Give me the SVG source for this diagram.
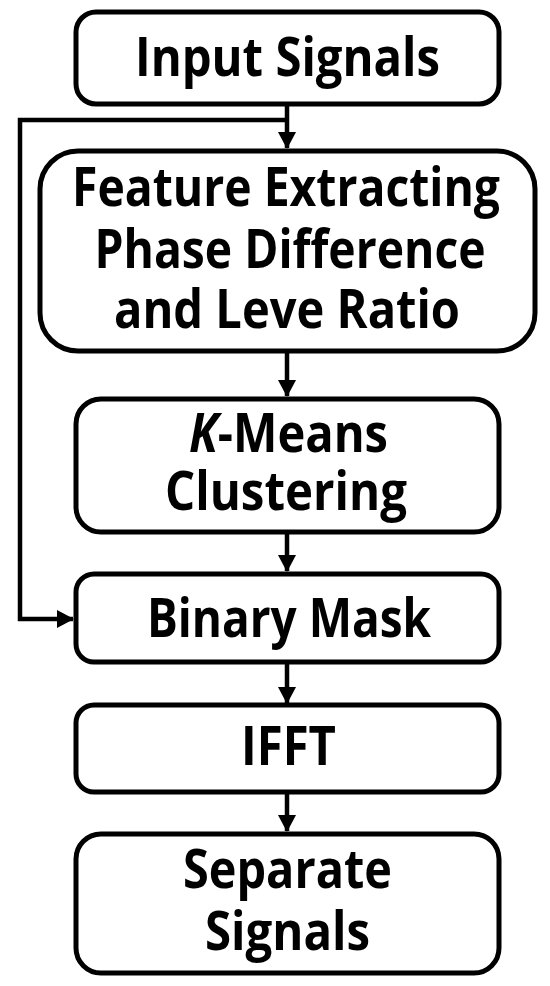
<svg xmlns="http://www.w3.org/2000/svg" width="550" height="986" viewBox="0 0 550 986">
<style>
.box{fill:#fff;stroke:#000;stroke-width:5}
.t{font-family:"Open Sans","Liberation Sans",sans-serif;font-weight:700;font-size:54px;fill:#000;text-anchor:middle}
.c{fill:none;stroke:#000;stroke-width:4.5}
</style>
<defs>
<marker id="ah" markerWidth="17" markerHeight="18" refX="16" refY="9" orient="auto" markerUnits="userSpaceOnUse">
<path d="M0,0 L17,9 L0,18 Z" fill="#000"/>
</marker>
</defs>
<g id="connectors">
<path class="c" d="M287,105 V148" marker-end="url(#ah)"/>
<path class="c" d="M287,120 H20 V619 H73" marker-end="url(#ah)"/>
<path class="c" d="M287,352 V396" marker-end="url(#ah)"/>
<path class="c" d="M287,534 V571" marker-end="url(#ah)"/>
<path class="c" d="M287,664 V703" marker-end="url(#ah)"/>
<path class="c" d="M287,793 V831" marker-end="url(#ah)"/>
</g>
<g id="input">
<rect class="box" x="76" y="12" width="423" height="92" rx="20"/>
<text class="t" x="287.5" y="76" textLength="305" lengthAdjust="spacingAndGlyphs">Input Signals</text>
</g>
<g id="feature">
<rect class="box" x="40" y="151" width="495" height="200" rx="38"/>
<text class="t" x="286" y="206" textLength="428" lengthAdjust="spacingAndGlyphs">Feature Extracting</text>
<text class="t" x="290" y="268" textLength="391" lengthAdjust="spacingAndGlyphs">Phase Difference</text>
<text class="t" x="287" y="328" textLength="346" lengthAdjust="spacingAndGlyphs">and Leve Ratio</text>
</g>
<g id="kmeans">
<rect class="box" x="76" y="399" width="423" height="133" rx="25"/>
<text class="t" x="288.5" y="452" textLength="199" lengthAdjust="spacingAndGlyphs"><tspan font-style="italic">K</tspan>-Means</text>
<text class="t" x="286" y="510" textLength="242" lengthAdjust="spacingAndGlyphs">Clustering</text>
</g>
<g id="mask">
<rect class="box" x="76" y="574" width="423" height="88" rx="18"/>
<text class="t" x="289" y="637" textLength="284" lengthAdjust="spacingAndGlyphs">Binary Mask</text>
</g>
<g id="ifft">
<rect class="box" x="76" y="705" width="423" height="87" rx="18"/>
<text class="t" x="288.5" y="765" textLength="95" lengthAdjust="spacingAndGlyphs">IFFT</text>
</g>
<g id="separate">
<rect class="box" x="76" y="834" width="423" height="139" rx="25"/>
<text class="t" x="287.5" y="888" textLength="209" lengthAdjust="spacingAndGlyphs">Separate</text>
<text class="t" x="287.5" y="950" textLength="165" lengthAdjust="spacingAndGlyphs">Signals</text>
</g>
</svg>
